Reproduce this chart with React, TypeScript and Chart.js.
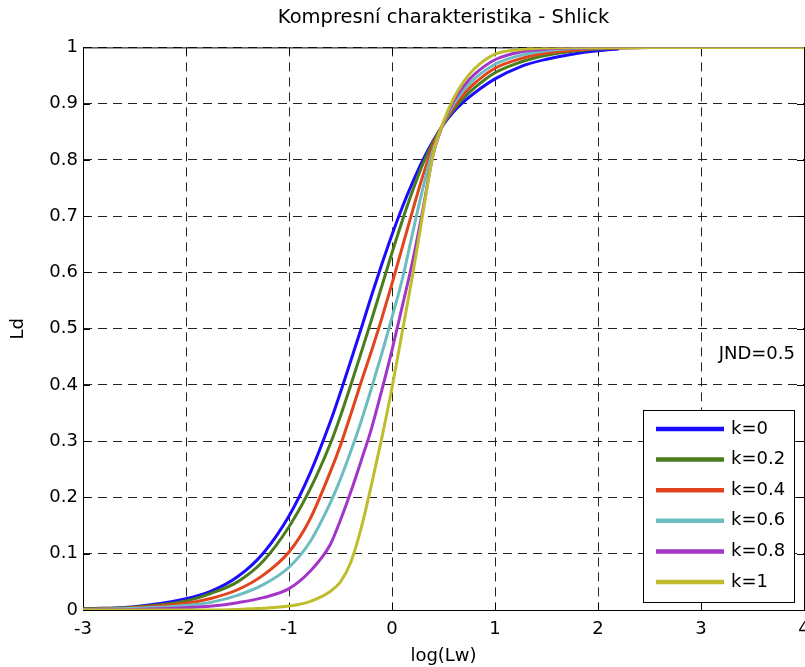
import React, { useEffect, useRef } from "react";
import { Chart, registerables } from "chart.js";

Chart.register(...registerables);

const FONT = "'DejaVu Sans', 'Liberation Sans', Arial, sans-serif";

const TITLE = "Kompresní charakteristika - Shlick";
const X_TITLE = "log(Lw)";
const Y_TITLE = "Ld";
const NOTE = "JND=0.5";

const LOG_LW = [-3, -2.5, -2, -1.75, -1.5, -1.25, -1, -0.8, -0.6, -0.5, -0.4, -0.3, -0.2, -0.1, 0, 0.1, 0.2, 0.3, 0.4, 0.5, 0.6, 0.7, 0.8, 1, 1.25, 1.5, 1.75, 2, 2.2, 2.5, 3, 4];

const LD_K0 = [0.002, 0.006, 0.02, 0.034, 0.059, 0.101, 0.167, 0.241, 0.334, 0.387, 0.443, 0.5, 0.558, 0.614, 0.667, 0.716, 0.76, 0.8, 0.834, 0.863, 0.886, 0.904, 0.919, 0.944, 0.966, 0.979, 0.988, 0.994, 0.997, null, null, null];
const LD_K02 = [0.002, 0.005, 0.016, 0.03, 0.05, 0.087, 0.148, 0.213, 0.295, 0.345, 0.4, 0.457, 0.515, 0.575, 0.635, 0.692, 0.745, 0.793, 0.832, 0.864, 0.89, 0.911, 0.928, 0.955, 0.974, 0.986, 0.993, 0.997, 0.999, 1, 1, 1];
const LD_K04 = [0.001, 0.004, 0.012, 0.021, 0.036, 0.062, 0.103, 0.16, 0.245, 0.293, 0.348, 0.405, 0.46, 0.518, 0.58, 0.645, 0.71, 0.772, 0.826, 0.865, 0.895, 0.918, 0.936, 0.963, 0.98, 0.99, 0.995, 0.998, 0.999, 1, 1, 1];
const LD_K06 = [0.001, 0.003, 0.008, 0.014, 0.026, 0.045, 0.076, 0.12, 0.19, 0.233, 0.282, 0.335, 0.394, 0.455, 0.52, 0.588, 0.67, 0.75, 0.818, 0.866, 0.9, 0.925, 0.944, 0.97, 0.986, 0.994, 0.998, 0.999, 1, 1, 1, 1];
const LD_K08 = [0, 0.001, 0.004, 0.007, 0.013, 0.022, 0.038, 0.068, 0.116, 0.16, 0.21, 0.265, 0.322, 0.39, 0.462, 0.54, 0.62, 0.712, 0.81, 0.866, 0.905, 0.932, 0.952, 0.978, 0.992, 0.997, 0.999, 1, 1, 1, 1, 1];
const LD_K1 = [0, 0, 0, 0, 0.001, 0.003, 0.007, 0.015, 0.033, 0.05, 0.085, 0.145, 0.222, 0.305, 0.395, 0.495, 0.595, 0.705, 0.81, 0.868, 0.91, 0.94, 0.962, 0.988, 0.996, 0.999, 1, 1, 1, 1, 1, 1];

const SERIES_LABELS = ["k=0", "k=0.2", "k=0.4", "k=0.6", "k=0.8", "k=1"];
const SERIES_COLORS = ["#1a0dff", "#4a7d1c", "#e2441e", "#6dbdc0", "#a335c8", "#bfbd2b"];

const X_MIN = -3;
const X_MAX = 4;
const Y_MIN = 0;
const Y_MAX = 1;

export default function App() {
  const ref = useRef<HTMLCanvasElement>(null);

  useEffect(() => {
    const canvas = ref.current;
    if (!canvas) return;
    const series = [LD_K0, LD_K02, LD_K04, LD_K06, LD_K08, LD_K1];
    const datasets = series.map((vals, i) => ({
      label: SERIES_LABELS[i],
      data: LOG_LW.map((x, j) => ({ x, y: vals[j] })).filter((p) => p.y !== null),
      borderColor: SERIES_COLORS[i],
      backgroundColor: SERIES_COLORS[i],
      borderWidth: 3,
      pointRadius: 0,
      cubicInterpolationMode: "monotone" as const,
      fill: false,
      order: series.length - 1 - i,
    }));

    const framePlugin = {
      id: "frame",
      beforeDatasetsDraw(chart: any) {
        const { ctx, chartArea } = chart;
        const { left, right, top, bottom } = chartArea;
        const xs = chart.scales.x;
        const ys = chart.scales.y;
        ctx.save();
        ctx.strokeStyle = "#000";
        ctx.lineWidth = 1;
        ctx.strokeRect(left + 0.5, top + 0.5, right - left, bottom - top);
        ctx.beginPath();
        const tl = 7;
        xs.ticks.forEach((t: any) => {
          const px = Math.round(xs.getPixelForValue(t.value)) + 0.5;
          ctx.moveTo(px, bottom);
          ctx.lineTo(px, bottom - tl);
          ctx.moveTo(px, top);
          ctx.lineTo(px, top + tl);
        });
        ys.ticks.forEach((t: any) => {
          const py = Math.round(ys.getPixelForValue(t.value)) + 0.5;
          ctx.moveTo(left, py);
          ctx.lineTo(left + tl, py);
          ctx.moveTo(right, py);
          ctx.lineTo(right - tl, py);
        });
        ctx.stroke();
        ctx.restore();
      },
      afterDatasetsDraw(chart: any) {
        const { ctx, chartArea } = chart;
        const { right, bottom } = chartArea;
        const ys = chart.scales.y;
        ctx.save();
        ctx.fillStyle = "#000";
        ctx.font = `18px ${FONT}`;
        ctx.textAlign = "right";
        ctx.textBaseline = "middle";
        ctx.fillText(NOTE, right - 9, ys.getPixelForValue(0.454));

        const lw = 151;
        const lh = 192;
        const lx = right - 10 - lw;
        const ly = bottom - 8 - lh;
        ctx.fillStyle = "#fff";
        ctx.fillRect(lx, ly, lw, lh);
        ctx.strokeStyle = "#000";
        ctx.lineWidth = 1;
        ctx.strokeRect(lx + 0.5, ly + 0.5, lw, lh);
        const step = 30.6;
        SERIES_LABELS.forEach((lab, i) => {
          const cy = ly + 19 + step * i;
          ctx.strokeStyle = SERIES_COLORS[i];
          ctx.lineWidth = 4.5;
          ctx.beginPath();
          ctx.moveTo(lx + 13, cy);
          ctx.lineTo(lx + 81, cy);
          ctx.stroke();
          ctx.fillStyle = "#000";
          ctx.textAlign = "left";
          ctx.textBaseline = "middle";
          ctx.font = `18px ${FONT}`;
          ctx.fillText(lab, lx + 88, cy);
        });
        ctx.restore();
      },
    };

    const chart = new Chart(canvas, {
      type: "line",
      data: { datasets },
      plugins: [framePlugin],
      options: {
        responsive: false,
        animation: false,
        layout: { padding: { left: 0, right: 1, top: 0, bottom: 0 } },
        plugins: {
          legend: { display: false },
          tooltip: { enabled: false },
          title: {
            display: true,
            text: TITLE,
            color: "#000",
            fullSize: false,
            font: { family: FONT, size: 19.5, weight: "normal" },
            padding: { top: 6, bottom: 18 },
          },
        },
        scales: {
          x: {
            type: "linear",
            min: X_MIN,
            max: X_MAX,
            ticks: {
              stepSize: 1,
              color: "#000",
              font: { family: FONT, size: 18 },
              padding: 9,
              maxRotation: 0,
              autoSkip: false,
            },
            grid: { color: "#222", lineWidth: 1, drawTicks: false },
            border: { display: false, dash: [9, 6] },
            title: {
              display: true,
              text: X_TITLE,
              color: "#000",
              font: { family: FONT, size: 18 },
              padding: { top: 0, bottom: 0 },
            },
            afterFit: (s: any) => {
              s.height = 57;
              s.paddingLeft = 0;
              s.paddingRight = 0;
            },
          },
          y: {
            type: "linear",
            min: Y_MIN,
            max: Y_MAX,
            ticks: {
              stepSize: 0.1,
              color: "#000",
              font: { family: FONT, size: 18 },
              padding: 5,
              callback: (v: any) => String(Math.round(Number(v) * 10) / 10),
            },
            grid: { color: "#222", lineWidth: 1, drawTicks: false },
            border: { display: false, dash: [9, 6] },
            title: {
              display: true,
              text: Y_TITLE,
              color: "#000",
              font: { family: FONT, size: 18 },
              padding: { top: 8, bottom: 0 },
            },
            afterFit: (s: any) => {
              s.width = 83;
              s.paddingTop = 0;
              s.paddingBottom = 0;
            },
          },
        },
      },
    } as any);

    return () => chart.destroy();
  }, []);

  return (
    <div style={{ position: "absolute", left: 0, top: 0, width: 805, height: 667, background: "#fff" }}>
      <canvas ref={ref} width={805} height={667} style={{ display: "block" }} />
    </div>
  );
}
